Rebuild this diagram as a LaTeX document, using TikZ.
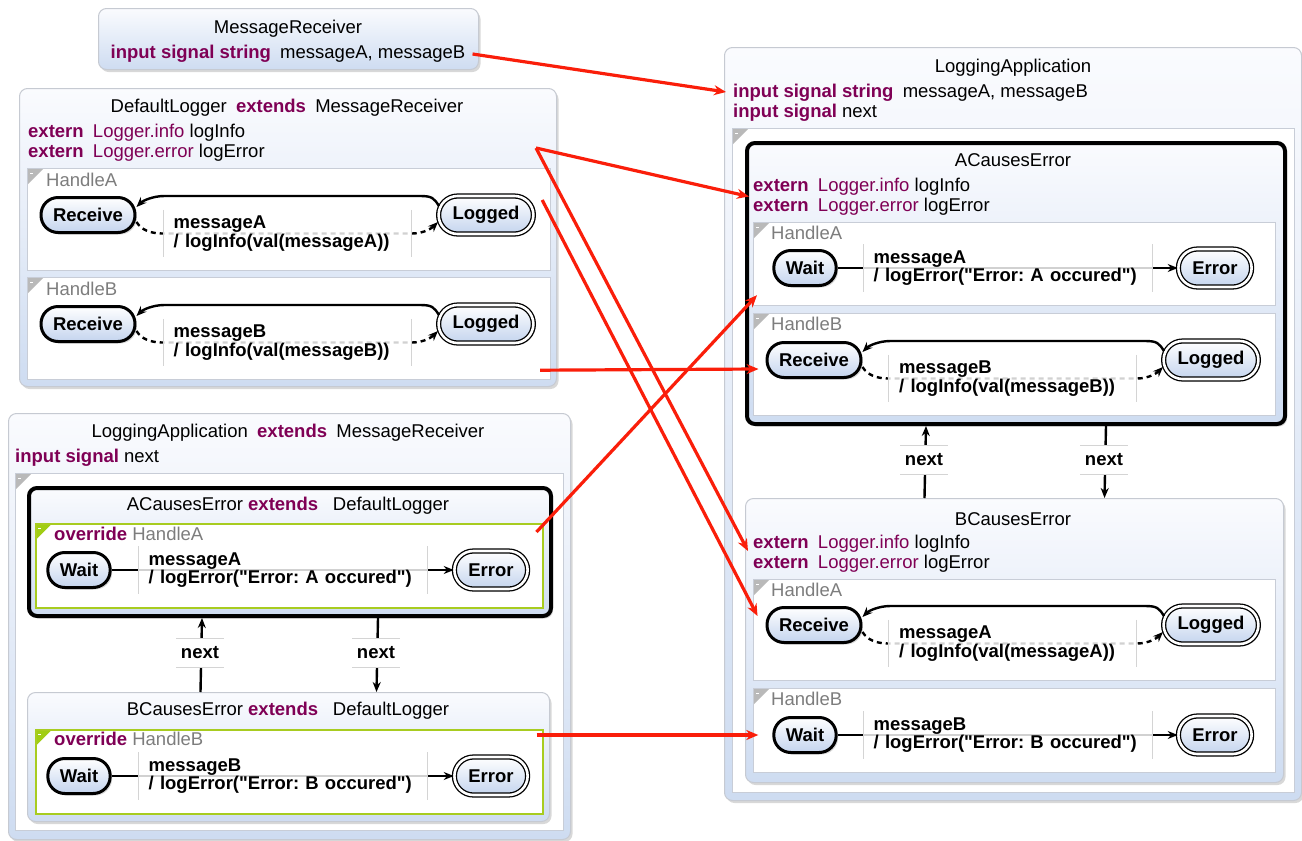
\documentclass[tikz,border=0pt]{standalone}
\usepackage{fontspec}
\setmainfont{Liberation Sans}[Ligatures=TeXOff]
\usetikzlibrary{arrows.meta,calc,shadows}

\definecolor{kwcol}{RGB}{127,0,85}
\definecolor{boxline}{RGB}{198,202,210}
\definecolor{boxtop}{RGB}{250,251,254}
\definecolor{boxbot}{RGB}{206,220,241}
\definecolor{regline}{RGB}{200,205,215}
\definecolor{trigray}{RGB}{185,185,185}
\definecolor{trigreen}{RGB}{160,205,20}
\definecolor{greenline}{RGB}{168,204,32}
\definecolor{stbot}{RGB}{196,212,238}
\definecolor{labgray}{RGB}{125,125,125}
\definecolor{barcol}{RGB}{212,212,212}
\definecolor{linkred}{RGB}{250,30,10}

\frenchspacing
\newcommand{\diagfont}{\fontsize{18.5}{20}\selectfont}
\newcommand{\kw}[1]{\textcolor{kwcol}{\bfseries #1}}
\newcommand{\ty}[1]{\textcolor{kwcol}{#1}}
\newcommand{\dq}{\symbol{34}}

\begin{document}
\begin{tikzpicture}[x=1pt,y=1pt,
    every node/.style={inner sep=0pt, font=\diagfont},
    box/.style={draw=boxline, line width=1pt, rounded corners=8pt, top color=boxtop, bottom color=boxbot,
      anchor=north west, drop shadow={shadow xshift=2pt, shadow yshift=-2.5pt, opacity=.3}},
    thickbox/.style={box, draw=black, line width=4pt},
    region/.style={draw=regline, fill=white, line width=1.2pt, anchor=north west,
      path picture={\fill[#1] (path picture bounding box.north west) -- ++(16,0) -- ++(-16,-16) -- cycle;
        \draw[white, line width=1pt] ([xshift=2.5pt,yshift=-4.5pt]path picture bounding box.north west) -- ++(3,0);}},
    region/.default=trigray,
    decl/.style={anchor=west, align=left},
    rlab/.style={anchor=west, text=labgray},
    st/.style={draw=black, line width=3pt, rounded corners=17pt, minimum height=35pt, inner xsep=12pt,
      top color=white, bottom color=stbot, font=\bfseries\diagfont,
      drop shadow={shadow xshift=2pt, shadow yshift=-2pt, opacity=.3}},
    fin/.style={st, line width=1.3pt, double=white, double distance=2.6pt, inner xsep=14pt,
      minimum height=38pt, rounded corners=19pt},
    tr/.style={line width=2.4pt, -{Stealth[length=10pt,width=8pt]}},
    dtr/.style={tr, dash pattern=on 5pt off 4pt},
    bar/.style={draw=barcol, line width=1pt, -},
    tlab/.style={fill=white, fill opacity=.82, text opacity=1, align=left, inner xsep=10.5pt, minimum height=47pt,
      font=\bfseries\fontsize{18.5}{17}\selectfont,
      append after command={(\tikzlastnode.north west) edge[bar] (\tikzlastnode.south west)
        (\tikzlastnode.north east) edge[bar] (\tikzlastnode.south east)}},
    nlab/.style={fill=white, minimum width=47pt, minimum height=28pt, font=\bfseries\diagfont,
      append after command={(\tikzlastnode.north west) edge[bar] (\tikzlastnode.north east)
        (\tikzlastnode.south west) edge[bar] (\tikzlastnode.south east)}},
    link/.style={draw=linkred, line width=3.2pt, -{Stealth[length=12pt,width=10pt]}}]

\useasboundingbox (0,0) rectangle (1302,-841);
\fill[white] (0,0) rectangle (1302,-841);

% MessageReceiver
\node[box, minimum width=380pt, minimum height=61pt] (mr) at (98,-8) {};
\node (mrT) at (288,-29) {MessageReceiver};
\node (mrD) at (288,-54) {\kw{input signal string}\enspace messageA, messageB};

% DefaultLogger
\node[box, minimum width=537pt, minimum height=298pt] (dl) at (19,-88) {};
\node (dlT) at (287,-108) {DefaultLogger\enspace\kw{extends}\enspace MessageReceiver};
\node[decl] (dlD) at (28,-143) {\kw{extern}\enspace\ty{Logger.info} logInfo\\\kw{extern}\enspace\ty{Logger.error} logError};
\node[region, minimum width=523pt, minimum height=102pt] (hdA) at (27,-168) {};
\node[rlab] (hdAL) at (46,-180) {HandleA};
\node[region, minimum width=523pt, minimum height=102pt] (hdB) at (27,-277) {};
\node[rlab] (hdBL) at (46,-289) {HandleB};

\node[st] (rcDA) at (88,-215) {Receive};
\node[fin] (lgDA) at (486,-215) {Logged};
\draw[tr] ([xshift=1pt,yshift=9pt]lgDA.west) .. controls +(-5,8) and +(12,0) .. ([xshift=-18pt,yshift=19pt]lgDA.west)
  -- ([xshift=28pt,yshift=19pt]rcDA.east) .. controls +(-12,0) and +(6,6) .. ([yshift=8pt]rcDA.east);
\draw[dtr] ([yshift=-7pt]rcDA.east) .. controls +(5,-8) and +(-12,0) .. ([xshift=26pt,yshift=-18.5pt]rcDA.east)
  -- ([xshift=-26pt,yshift=-18.5pt]lgDA.west) .. controls +(12,0) and +(-6,-6) .. ([yshift=-7pt]lgDA.west);
\node[tlab, text width=227pt] (tlDA) at ($(rcDA.east)!.5!(lgDA.west)+(0,-18.5)$) {messageA\\/ logInfo(val(messageA))};

\node[st] (rcDB) at (88,-324) {Receive};
\node[fin] (lgDB) at (486,-324) {Logged};
\draw[tr] ([xshift=1pt,yshift=9pt]lgDB.west) .. controls +(-5,8) and +(12,0) .. ([xshift=-18pt,yshift=19pt]lgDB.west)
  -- ([xshift=28pt,yshift=19pt]rcDB.east) .. controls +(-12,0) and +(6,6) .. ([yshift=8pt]rcDB.east);
\draw[dtr] ([yshift=-7pt]rcDB.east) .. controls +(5,-8) and +(-12,0) .. ([xshift=26pt,yshift=-18.5pt]rcDB.east)
  -- ([xshift=-26pt,yshift=-18.5pt]lgDB.west) .. controls +(12,0) and +(-6,-6) .. ([yshift=-7pt]lgDB.west);
\node[tlab, text width=227pt] (tlDB) at ($(rcDB.east)!.5!(lgDB.west)+(0,-18.5)$) {messageB\\/ logInfo(val(messageB))};

% LoggingApplication extends MessageReceiver
\node[box, minimum width=562pt, minimum height=426pt] (la) at (8,-413) {};
\node (laT) at (288,-433) {LoggingApplication\enspace\kw{extends}\enspace MessageReceiver};
\node[decl] (laD) at (15,-458) {\kw{input signal} next};
\node[region, minimum width=548pt, minimum height=357pt] (hL) at (15,-473) {};

\node[thickbox, minimum width=522pt, minimum height=128pt] (ae) at (27,-486) {};
\node (aeT) at (288,-506) {ACausesError \kw{extends}\hspace{.8em}DefaultLogger};
\node[region=trigreen, draw=greenline, line width=1.5pt, minimum width=507pt, minimum height=84pt] (hoA) at (35,-523) {};
\node[rlab] (hoAL) at (54,-534) {\kw{override} HandleA};
\node[st] (wtLA) at (79,-570) {Wait};
\node[fin] (erLA) at (491,-570) {Error};
\draw[tr] (wtLA) -- (erLA);
\node[tlab, text width=268pt] (tlLA) at ($(wtLA.east)!.5!(erLA.west)$) {messageA\\/ logError(\dq Error: A occured\dq)};

\node[box, minimum width=522pt, minimum height=129pt] (be) at (27,-692) {};
\node (beT) at (288,-711) {BCausesError \kw{extends}\hspace{.8em}DefaultLogger};
\node[region=trigreen, draw=greenline, line width=1.5pt, minimum width=507pt, minimum height=84pt] (hoB) at (35,-729) {};
\node[rlab] (hoBL) at (54,-739) {\kw{override} HandleB};
\node[st] (wtLB) at (79,-776) {Wait};
\node[fin] (erLB) at (491,-776) {Error};
\draw[tr] (wtLB) -- (erLB);
\node[tlab, text width=268pt] (tlLB) at ($(wtLB.east)!.5!(erLB.west)$) {messageB\\/ logError(\dq Error: B occured\dq)};

\draw[tr] ($(be.north)+(-88,0)$) -- ($(ae.south)+(-88,0)$);
\node[nlab] (nxL1) at (200,-653) {next};
\draw[tr] ($(ae.south)+(88,0)$) -- ($(be.north)+(88,0)$);
\node[nlab] (nxL2) at (376,-653) {next};

% LoggingApplication
\node[box, minimum width=577pt, minimum height=753pt] (ra) at (724,-47) {};
\node (raT) at (1013,-68) {LoggingApplication};
\node[decl] (raD) at (733,-103) {\kw{input signal string}\enspace messageA, messageB\\\kw{input signal} next};
\node[region, minimum width=562pt, minimum height=664pt] (hR) at (732,-128) {};

\node[thickbox, minimum width=538pt, minimum height=281pt] (rae) at (745,-141) {};
\node (raeT) at (1013,-160) {ACausesError};
\node[decl] (raeD) at (753,-196.5) {\kw{extern}\enspace\ty{Logger.info} logInfo\\\kw{extern}\enspace\ty{Logger.error} logError};
\node[region, minimum width=522pt, minimum height=83pt] (hRAA) at (753,-222) {};
\node[rlab] (hRAAL) at (771,-233) {HandleA};
\node[st] (wtRA) at (805,-268) {Wait};
\node[fin] (erRA) at (1215,-268) {Error};
\draw[tr] (wtRA) -- (erRA);
\node[tlab, text width=268pt] (tlRA) at ($(wtRA.east)!.5!(erRA.west)$) {messageA\\/ logError(\dq Error: A occured\dq)};

\node[region, minimum width=522pt, minimum height=102pt] (hRAB) at (753,-313) {};
\node[rlab] (hRABL) at (771,-324) {HandleB};
\node[st] (rcRA) at (814,-360) {Receive};
\node[fin] (lgRA) at (1211,-360) {Logged};
\draw[tr] ([xshift=1pt,yshift=9pt]lgRA.west) .. controls +(-5,8) and +(12,0) .. ([xshift=-18pt,yshift=19pt]lgRA.west)
  -- ([xshift=28pt,yshift=19pt]rcRA.east) .. controls +(-12,0) and +(6,6) .. ([yshift=8pt]rcRA.east);
\draw[dtr] ([yshift=-7pt]rcRA.east) .. controls +(5,-8) and +(-12,0) .. ([xshift=26pt,yshift=-18.5pt]rcRA.east)
  -- ([xshift=-26pt,yshift=-18.5pt]lgRA.west) .. controls +(12,0) and +(-6,-6) .. ([yshift=-7pt]lgRA.west);
\node[tlab, text width=227pt] (tlRB) at ($(rcRA.east)!.5!(lgRA.west)+(0,-18.5)$) {messageB\\/ logInfo(val(messageB))};

\node[box, minimum width=538pt, minimum height=284pt] (rbe) at (745,-498) {};
\node (rbeT) at (1013,-519) {BCausesError};
\node[decl] (rbeD) at (753,-554) {\kw{extern}\enspace\ty{Logger.info} logInfo\\\kw{extern}\enspace\ty{Logger.error} logError};
\node[region, minimum width=522pt, minimum height=101pt] (hRBA) at (753,-579) {};
\node[rlab] (hRBAL) at (771,-590) {HandleA};
\node[st] (rcRB) at (814,-625) {Receive};
\node[fin] (lgRB) at (1211,-625) {Logged};
\draw[tr] ([xshift=1pt,yshift=9pt]lgRB.west) .. controls +(-5,8) and +(12,0) .. ([xshift=-18pt,yshift=19pt]lgRB.west)
  -- ([xshift=28pt,yshift=19pt]rcRB.east) .. controls +(-12,0) and +(6,6) .. ([yshift=8pt]rcRB.east);
\draw[dtr] ([yshift=-7pt]rcRB.east) .. controls +(5,-8) and +(-12,0) .. ([xshift=26pt,yshift=-18.5pt]rcRB.east)
  -- ([xshift=-26pt,yshift=-18.5pt]lgRB.west) .. controls +(12,0) and +(-6,-6) .. ([yshift=-7pt]lgRB.west);
\node[tlab, text width=227pt] (tlRBA) at ($(rcRB.east)!.5!(lgRB.west)+(0,-18.5)$) {messageA\\/ logInfo(val(messageA))};

\node[region, minimum width=522pt, minimum height=84pt] (hRBB) at (753,-688) {};
\node[rlab] (hRBBL) at (771,-699) {HandleB};
\node[st] (wtRB) at (805,-735) {Wait};
\node[fin] (erRB) at (1215,-735) {Error};
\draw[tr] (wtRB) -- (erRB);
\node[tlab, text width=268pt] (tlRBB) at ($(wtRB.east)!.5!(erRB.west)$) {messageB\\/ logError(\dq Error: B occured\dq)};

\draw[tr] ($(rbe.north)+(-90,0)$) -- ($(rae.south)+(-90,0)$);
\node[nlab] (nxR1) at (924,-460) {next};
\draw[tr] ($(rae.south)+(90,0)$) -- ($(rbe.north)+(90,0)$);
\node[nlab] (nxR2) at (1104,-460) {next};

% red links
\draw[link] ([xshift=7pt]mrD.east) -- ([xshift=-7pt,yshift=11pt]raD.west);
\draw[link] ([xshift=-21pt,yshift=-60pt]dl.north east) -- ([xshift=-4pt]raeD.west);
\draw[link] ([xshift=-21pt,yshift=-60pt]dl.north east) -- ([xshift=-5pt,yshift=3pt]rbeD.west);
\draw[link] ([xshift=-9pt,yshift=-32pt]hdA.north east) -- ([xshift=-8pt,yshift=9pt]rcRB.west);
\draw[link] ([xshift=-11pt,yshift=10pt]hdB.south east) -- ([xshift=-7pt,yshift=-9pt]rcRA.west);
\draw[link] ([xshift=-7pt,yshift=-9pt]hoA.north east) -- ([xshift=4pt,yshift=11pt]hRAA.south west);
\draw[link] ([xshift=-7pt,yshift=-6pt]hoB.north east) -- ([xshift=-14pt]wtRB.west);
\end{tikzpicture}
\end{document}
